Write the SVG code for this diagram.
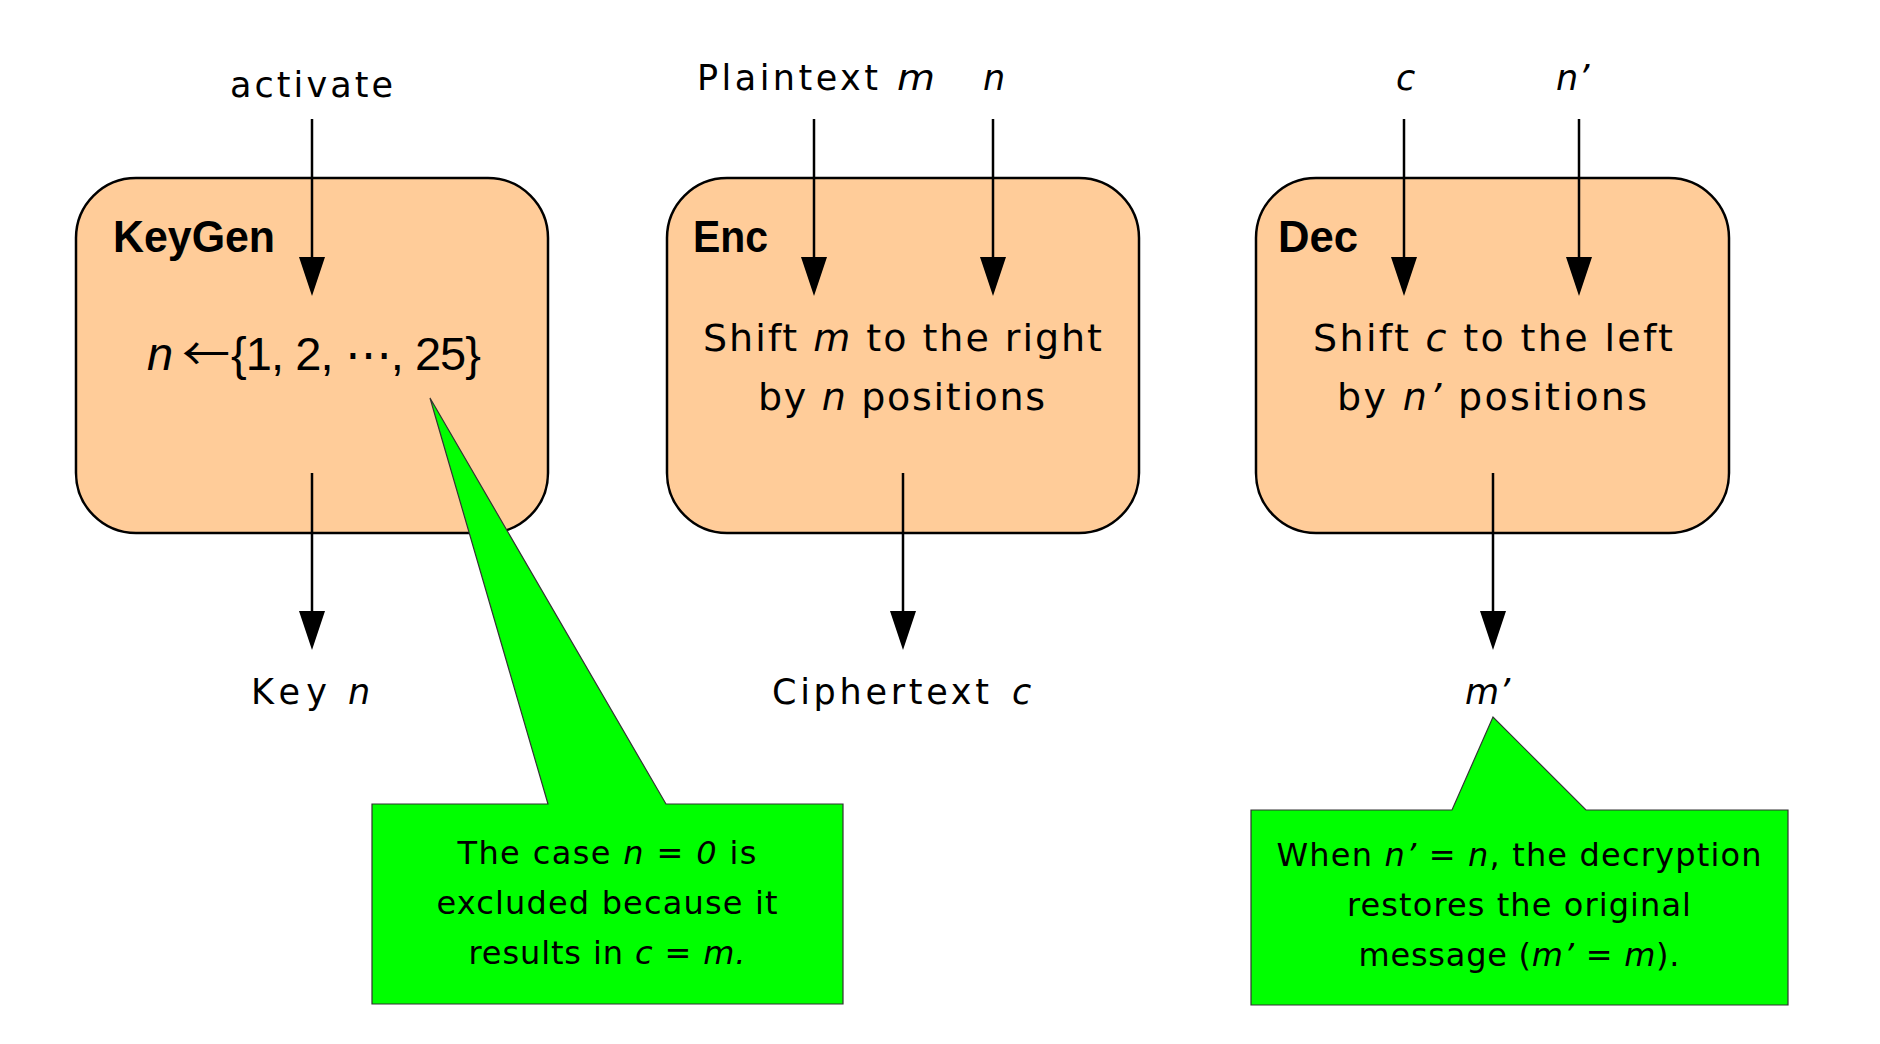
<svg xmlns="http://www.w3.org/2000/svg" width="1880" height="1044" viewBox="0 0 1880 1044">
<defs>
<marker id="ah" markerUnits="userSpaceOnUse" markerWidth="40" markerHeight="26" refX="0" refY="13" orient="auto">
<path d="M0,0 L39,13 L0,26 Z" fill="#000"/>
</marker>
</defs>
<style>
text{font-family:"DejaVu Sans","Noto Sans CJK JP",sans-serif;fill:#000}
.box{fill:#FFCC99;stroke:#000;stroke-width:2.5}
.lbl{font-size:35px}
.body{font-size:38px}
.title{font-family:"Liberation Sans",sans-serif;font-size:44px;font-weight:bold}
.form{font-family:"Liberation Sans",sans-serif;font-size:47px}
.arr{font-family:"Noto Sans CJK JP",sans-serif;font-size:46px}
.note{font-size:32px}
.i{font-style:italic}
.call{fill:#00FF00;stroke:#333;stroke-width:1.2}
.conn line{stroke:#000;stroke-width:2.5;marker-end:url(#ah)}
</style>
<rect width="1880" height="1044" fill="#fff"/>

<g id="node-keygen">
<rect class="box" x="76" y="178" width="472" height="355" rx="60" ry="60"/>
<text class="title" x="113" y="252" textLength="162" lengthAdjust="spacingAndGlyphs">KeyGen</text>
<text class="form i" x="147" y="370">n</text>
<text class="arr" x="182" y="370" textLength="48" lengthAdjust="spacingAndGlyphs">←</text>
<text class="form" x="231" y="370" textLength="250">{1, 2, ⋯, 25}</text>
</g>

<g id="node-enc">
<rect class="box" x="667" y="178" width="472" height="355" rx="60" ry="60"/>
<text class="title" x="693" y="252" textLength="75" lengthAdjust="spacingAndGlyphs">Enc</text>
<text class="body" x="703" y="351" textLength="399">Shift <tspan class="i">m</tspan> to the right</text>
<text class="body" x="758" y="410" textLength="287">by <tspan class="i">n</tspan> positions</text>
</g>

<g id="node-dec">
<rect class="box" x="1256" y="178" width="473" height="355" rx="60" ry="60"/>
<text class="title" x="1278" y="252" textLength="80" lengthAdjust="spacingAndGlyphs">Dec</text>
<text class="body" x="1313" y="351" textLength="360">Shift <tspan class="i">c</tspan> to the left</text>
<text class="body" x="1337" y="410" textLength="310">by <tspan class="i">n’</tspan>  positions</text>
</g>

<g id="inputs">
<text class="lbl" x="230" y="97" textLength="163">activate</text>
<text class="lbl" x="697" y="90" textLength="181">Plaintext</text>
<text class="lbl i" x="897" y="90" textLength="38" lengthAdjust="spacingAndGlyphs">m</text>
<text class="lbl i" x="983" y="90">n</text>
<text class="lbl i" x="1396" y="90">c</text>
<text class="lbl i" x="1556" y="90">n’</text>
</g>

<g id="outputs">
<text class="lbl" x="251" y="704" textLength="76">Key</text>
<text class="lbl i" x="348" y="704">n</text>
<text class="lbl" x="772" y="704" textLength="217">Ciphertext</text>
<text class="lbl i" x="1012" y="704">c</text>
<text class="lbl i" x="1465" y="704">m’</text>
</g>

<g id="connectors" class="conn">
<line x1="312" y1="119" x2="312" y2="257"/>
<line x1="814" y1="119" x2="814" y2="257"/>
<line x1="993" y1="119" x2="993" y2="257"/>
<line x1="1404" y1="119" x2="1404" y2="257"/>
<line x1="1579" y1="119" x2="1579" y2="257"/>
<line x1="312" y1="473" x2="312" y2="611"/>
<line x1="903" y1="473" x2="903" y2="611"/>
<line x1="1493" y1="473" x2="1493" y2="611"/>
</g>

<g id="callout-keygen">
<path class="call" d="M372,804 L548,804 L430,398 L666,804 L843,804 L843,1004 L372,1004 Z"/>
<text class="note" x="607" y="864" text-anchor="middle" textLength="299">The case <tspan class="i">n = 0</tspan> is</text>
<text class="note" x="607" y="914" text-anchor="middle" textLength="341">excluded because it</text>
<text class="note" x="607" y="964" text-anchor="middle" textLength="277">results in <tspan class="i">c = m.</tspan></text>
</g>

<g id="callout-dec">
<path class="call" d="M1251,810 L1452,810 L1493,717 L1586,810 L1788,810 L1788,1005 L1251,1005 Z"/>
<text class="note" x="1519" y="866" text-anchor="middle" textLength="485">When <tspan class="i">n’ = n</tspan>, the decryption</text>
<text class="note" x="1519" y="916" text-anchor="middle" textLength="344">restores the original</text>
<text class="note" x="1519" y="966" text-anchor="middle" textLength="321">message (<tspan class="i">m’ = m</tspan>).</text>
</g>
</svg>
